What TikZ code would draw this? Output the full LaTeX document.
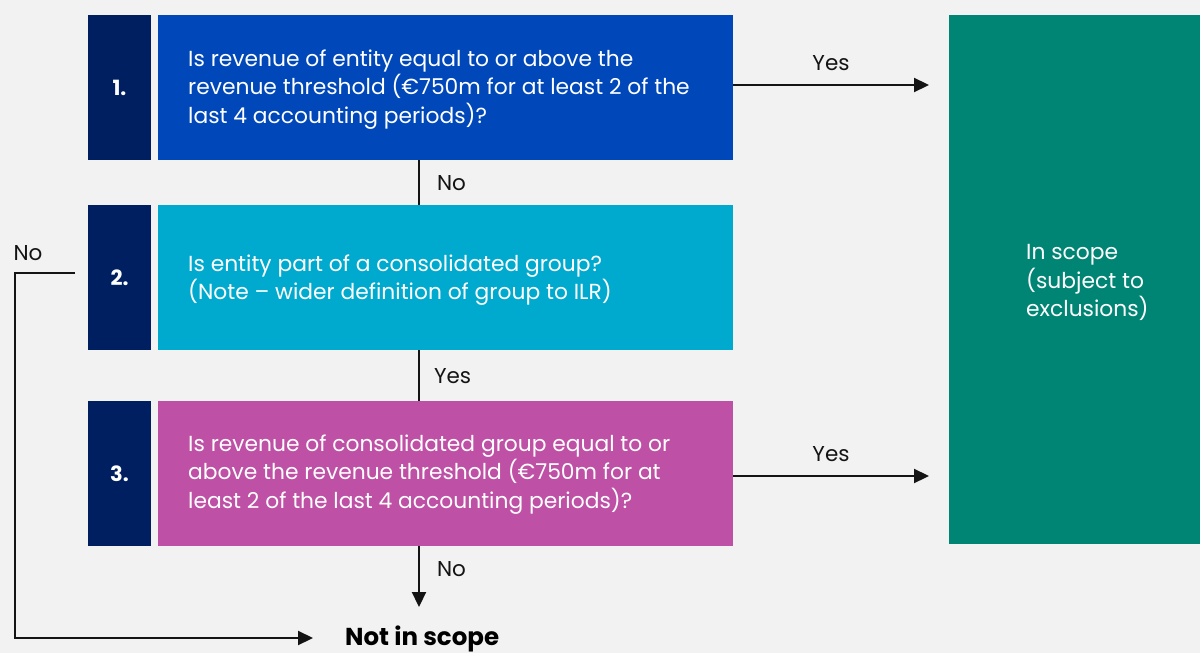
\documentclass[tikz,border=0pt]{standalone}
\usepackage{fontspec}
\setmainfont{Poppins}
\usetikzlibrary{arrows.meta}
\definecolor{bg}{RGB}{242,242,242}
\definecolor{navy}{RGB}{0,31,96}
\definecolor{blueA}{RGB}{0,72,186}
\definecolor{cyanA}{RGB}{0,170,206}
\definecolor{magA}{RGB}{190,80,165}
\definecolor{greenA}{RGB}{0,133,117}
\definecolor{ink}{RGB}{20,20,20}
\begin{document}
\begin{tikzpicture}[x=1pt,y=-1pt,
  numbox/.style={fill=navy,minimum width=63pt,minimum height=145pt,inner sep=0pt,text=white,font=\fontsize{21}{24}\selectfont\bfseries},
  qbox/.style={minimum width=575pt,minimum height=145pt,inner sep=0pt},
  qtext/.style={anchor=west,text=white,align=left,font=\fontsize{21.8}{28.5}\selectfont,inner sep=0pt},
  lbl/.style={text=ink,font=\fontsize{21.5}{24}\selectfont,inner sep=0pt},
  conn/.style={draw=ink,line width=2.2pt},
  arr/.style={conn,-{Triangle[length=15pt,width=14pt]}}
]
\useasboundingbox (0,0) rectangle (1200,653);
\fill[bg] (0,0) rectangle (1200,653);
% number boxes
\node[numbox] (n1) at (119.5,87.5) {1.};
\node[numbox] (n2) at (119.5,277.5) {2.};
\node[numbox] (n3) at (119.5,473.5) {3.};
% question boxes
\node[qbox,fill=blueA] (q1) at (445.5,87.5) {};
\node[qbox,fill=cyanA] (q2) at (445.5,277.5) {};
\node[qbox,fill=magA] (q3) at (445.5,473.5) {};
\node[qtext] (t1) at (188,89.5) {Is revenue of entity equal to or above the\\revenue threshold (€750m for at least 2 of the\\last 4 accounting periods)?};
\node[qtext] (t2) at (188,280) {Is entity part of a consolidated group?\\(Note – wider definition of group to ILR)};
\node[qtext] (t3) at (188,474.5) {Is revenue of consolidated group equal to or\\above the revenue threshold (€750m for at\\least 2 of the last 4 accounting periods)?};
% in scope box
\node[fill=greenA,minimum width=251pt,minimum height=529pt,inner sep=0pt] (g) at (1074.5,279.5) {};
\node[qtext] (gt) at (1026,282.5) {In scope\\(subject to\\exclusions)};
% not in scope
\node[inner sep=0pt,anchor=west,font=\fontsize{24.5}{26}\selectfont\bfseries,text=black] (ns) at (345,639) {Not in scope};
% coordinates
\coordinate (y1s) at (733,85);
\coordinate (y1e) at (929,85);
\coordinate (y3s) at (733,476);
\coordinate (y3e) at (929,476);
\coordinate (v1a) at (419,160);
\coordinate (v1b) at (419,205);
\coordinate (v2a) at (419,350);
\coordinate (v2b) at (419,401);
\coordinate (v3a) at (419,546);
\coordinate (v3b) at (419,607);
\coordinate (la) at (75,273);
\coordinate (lb) at (15,273);
\coordinate (lc) at (15,638);
\coordinate (ld) at (313,638);
% connectors
\draw[arr] (y1s) -- node[lbl,above=13pt] (l1) {Yes} (y1e);
\draw[arr] (y3s) -- node[lbl,above=13pt] (l3) {Yes} (y3e);
\draw[conn] (v1a) -- node[lbl,right=17pt,yshift=-1pt] (l2) {No} (v1b);
\draw[conn] (v2a) -- node[lbl,right=14pt,yshift=-1pt] (l4) {Yes} (v2b);
\draw[arr] (v3a) -- node[lbl,right=17pt,yshift=7pt] (l5) {No} (v3b);
\draw[arr] (la) -- (lb) -- (lc) -- (ld);
\node[lbl] (l6) at (28,253) {No};
\end{tikzpicture}
\end{document}
